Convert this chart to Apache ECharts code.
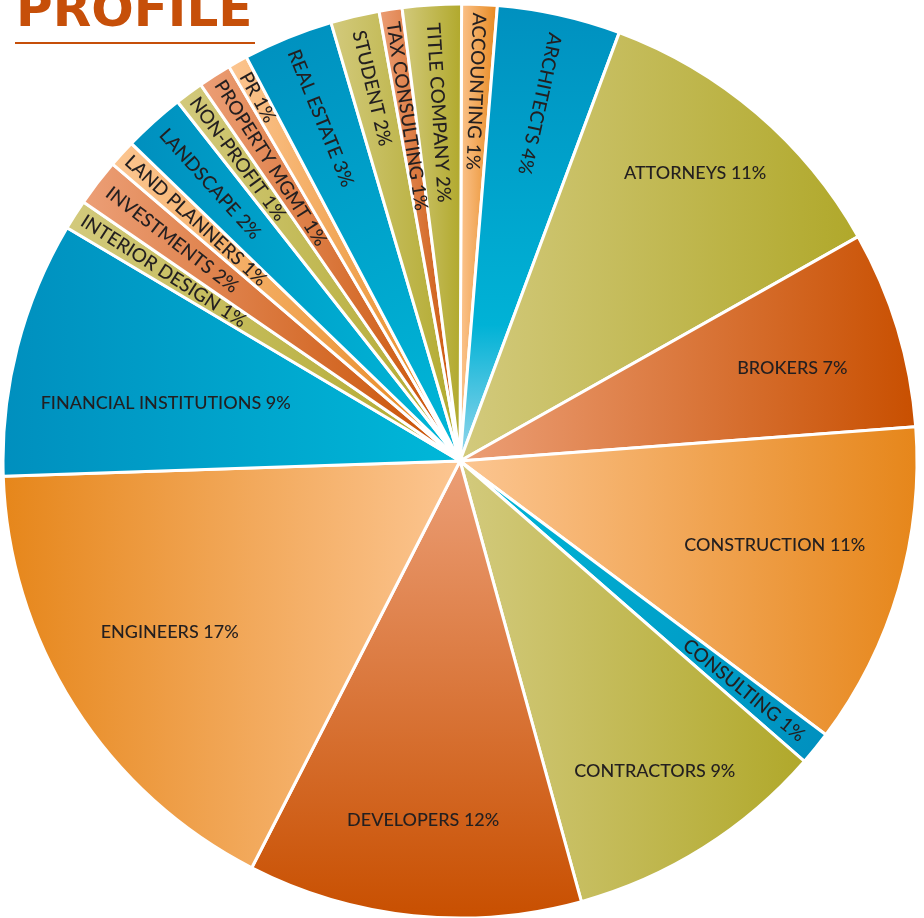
<!DOCTYPE html>
<html><head><meta charset="utf-8">
<script src="https://cdn.jsdelivr.net/npm/echarts@6/dist/echarts.min.js"></script>
<style>html,body{margin:0;padding:0;background:#fff}#c{width:924px;height:918px}</style>
</head><body><div id="c"></div>
<script>
// ---- data ----
const categories = ['ACCOUNTING','ARCHITECTS','ATTORNEYS','BROKERS','CONSTRUCTION','CONSULTING','CONTRACTORS','DEVELOPERS','ENGINEERS','FINANCIAL INSTITUTIONS','INTERIOR DESIGN','INVESTMENTS','LAND PLANNERS','LANDSCAPE','NON-PROFIT','PROPERTY MGMT','PR','REAL ESTATE','STUDENT','TAX CONSULTING','TITLE COMPANY'];
const values = [1.25,4.36,11.17,6.97,11.42,1.19,9.31,11.81,16.94,9.06,1.06,1.67,0.97,2.17,1.0,1.17,0.69,3.19,1.72,0.81,2.08];
const printedPercents = [1,4,11,7,11,1,9,12,17,9,1,2,1,2,1,1,1,3,2,1,2];

// ---- styles (kept separate from data) ----
const palettes = {
  lo: ['#fcc692', '#e6861a'],
  bl: ['#00b8d9', '#008fbe'],
  ol: ['#d3ca7d', '#b0a82a'],
  br: ['#ec9f77', '#c84f00']
};
const paletteOf = ['lo','bl','ol','br','lo','bl','ol','br','lo','bl','ol','br','lo','bl','ol','br','lo','bl','ol','br','ol'];
const gradDir = ['lr','bt','lr','lr','lr','tlbr','lr','tb','rl','rl','lr','lr','lr','rl','lr','lr','lr','brtl','lr','lr','lr'];
const horizontalLabel = [0,0,1,1,1,0,1,1,1,1,0,0,0,0,0,0,0,0,0,0,0];
const labelRadius = [370,366,372,345,326,365,366,361,337,300,352,363,357,373,375,353,416,370,383,349,349];
const labelAngleShift = [0,0,-1.3,1.3,-1.2,0,0,0,1.9,-3.2,0,0,0,0,0,0,0,0,0,0,0];

const CX = 460, CY = 461, R = 457, START = 0.2;

function grad(i){
  const p = palettes[paletteOf[i]];
  const d = gradDir[i];
  let c = {x:0,y:0,x2:1,y2:0};
  if (d==='rl') c = {x:1,y:0,x2:0,y2:0};
  if (d==='tb') c = {x:0,y:0,x2:0,y2:1};
  if (d==='bt') c = {x:0,y:1,x2:0,y2:0};
  if (d==='tlbr') c = {x:0,y:0,x2:1,y2:1};
  if (d==='brtl') c = {x:1,y:1,x2:0,y2:0};
  const stops = (i===1)
    ? [{offset:0,color:'#9ad7ec'},{offset:0.3,color:'#00b2d6'},{offset:1,color:'#0090bf'}]
    : [{offset:0,color:p[0]},{offset:1,color:p[1]}];
  return Object.assign({type:'linear', colorStops: stops}, c);
}

const total = values.reduce((a,b)=>a+b,0);
const mids = [];
(function(){ let acc=0; values.forEach(v=>{ mids.push(START + (acc + v/2)/total*360); acc+=v; }); })();

const data = categories.map((name,i)=>({
  name: name,
  value: values[i],
  itemStyle: {color: grad(i)},
  label: {fontSize: horizontalLabel[i] ? 18 : 19}
}));

const chart = echarts.init(document.getElementById('c'), null, {renderer:'canvas'});
chart.setOption({
  animation: false,
  graphic: [
    {type:'text', x:16, y:13, style:{text:'PROFILE', fill:'#c64f09', font:'bold 50px "DejaVu Sans"', verticalAlign:'middle'}},
    {type:'rect', shape:{x:15, y:42, width:240, height:2}, style:{fill:'#c64f09'}}
  ],
  series: [{
    type: 'pie',
    center: [CX, CY],
    radius: [0, R],
    startAngle: 90 - START,
    clockwise: true,
    avoidLabelOverlap: false,
    minShowLabelAngle: 0,
    itemStyle: {borderColor:'#ffffff', borderWidth:3},
    emphasis: {disabled:true},
    label: {
      show: true,
      position: 'inside',
      color: '#231f20',
      fontFamily: 'Lato',
      fontWeight: 500,
      formatter: p => p.name + ' ' + printedPercents[p.dataIndex] + '%'
    },
    labelLine: {show:false},
    labelLayout: function(p){
      const i = p.dataIndex;
      const deg = mids[i] + labelAngleShift[i];
      const th = deg*Math.PI/180;
      const r = labelRadius[i];
      let rot = 0;
      if (!horizontalLabel[i]) {
        let cw = (mids[i] + 90) % 360;
        if (cw > 180 && cw < 270) cw -= 180;
        rot = -cw;
      }
      return {x: CX + r*Math.sin(th), y: CY - r*Math.cos(th), rotate: rot, align:'center', verticalAlign:'middle'};
    },
    data: data
  }]
});
</script></body></html>
